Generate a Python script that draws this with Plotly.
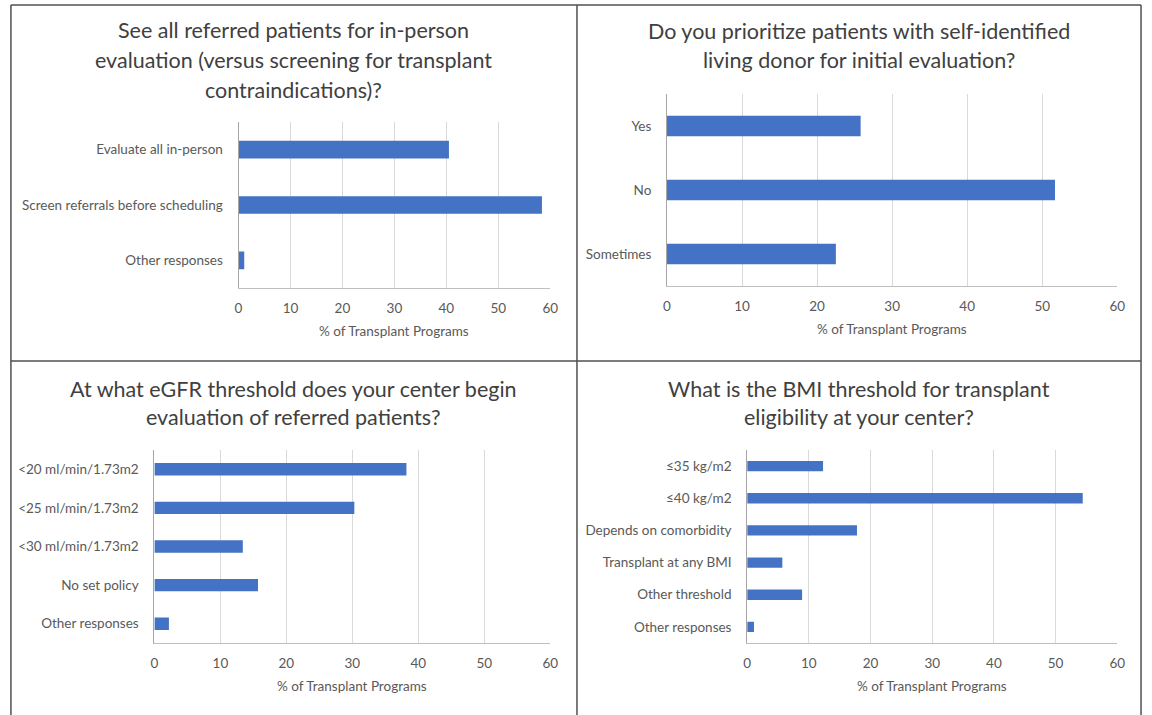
import plotly.graph_objects as go

W, H = 1152, 715

# ---- data ----
p1_title = ["See all referred patients for in-person",
            "evaluation (versus screening for transplant",
            "contraindications)?"]
p1_cats = ["Evaluate all in-person", "Screen referrals before scheduling", "Other responses"]
p1_vals = [40.5, 58.4, 1.1]

p2_title = ["Do you prioritize patients with self-identified",
            "living donor for initial evaluation?"]
p2_cats = ["Yes", "No", "Sometimes"]
p2_vals = [25.8, 51.7, 22.5]

p3_title = ["At what eGFR threshold does your center begin",
            "evaluation of referred patients?"]
p3_cats = ["<20 ml/min/1.73m2", "<25 ml/min/1.73m2", "<30 ml/min/1.73m2",
           "No set policy", "Other responses"]
p3_vals = [38.2, 30.3, 13.4, 15.7, 2.2]

p4_title = ["What is the BMI threshold for transplant",
            "eligibility at your center?"]
p4_cats = ["≤35 kg/m2", "≤40 kg/m2", "Depends on comorbidity",
           "Transplant at any BMI", "Other threshold", "Other responses"]
p4_vals = [12.3, 54.4, 17.8, 5.7, 8.9, 1.1]

x_title = "% of Transplant Programs"
x_ticks = [0, 10, 20, 30, 40, 50, 60]

# ---- layout (pixel boxes) ----
FONT = "Lato"
TXT = "#595959"
BAR = "#4472C4"

panels = [
    dict(cats=p1_cats, vals=p1_vals, title=p1_title, box=(237, 552, 122, 288),
         tcx=293, ty=[30, 60, 90]),
    dict(cats=p2_cats, vals=p2_vals, title=p2_title, box=(670, 1125, 94, 286),
         tcx=864, ty=[31, 60]),
    dict(cats=p3_cats, vals=p3_vals, title=p3_title, box=(152, 552, 450, 643),
         tcx=293, ty=[389, 417]),
    dict(cats=p4_cats, vals=p4_vals, title=p4_title, box=(751, 1125, 450, 643),
         tcx=864, ty=[389, 417]),
]

def px(x):
    return x / W

def py(y):
    return 1 - y / H

fig = go.Figure()
annotations = []
layout_axes = {}
for i, p in enumerate(panels, start=1):
    sfx = "" if i == 1 else str(i)
    x0, x1, y0, y1 = p["box"]
    fig.add_trace(go.Bar(
        y=p["cats"], x=p["vals"], orientation="h",
        marker=dict(color=BAR, line=dict(width=0)),
        width=0.32, xaxis="x" + sfx, yaxis="y" + sfx, showlegend=False,
        hoverinfo="x+y"))
    layout_axes["xaxis" + sfx] = dict(
        domain=[px(x0), px(x1)], anchor="y" + sfx, range=[0, 60],
        tickvals=x_ticks, showgrid=True, gridcolor="#D9D9D9", gridwidth=1,
        showline=True, linecolor="#BFBFBF", linewidth=1, zeroline=False,
        ticks="", ticklabelstandoff=8,
        tickfont=dict(family=FONT, size=13.5, color=TXT), fixedrange=True)
    layout_axes["yaxis" + sfx] = dict(
        domain=[py(y1), py(y0)], anchor="x" + sfx, type="category",
        categoryorder="array", categoryarray=p["cats"], autorange="reversed",
        showline=True, linecolor="#A6A6A6", linewidth=1, showgrid=False,
        ticks="", ticklabelstandoff=12,
        tickfont=dict(family=FONT, size=13.5, color=TXT), fixedrange=True)
    for line, ty in zip(p["title"], p["ty"]):
        annotations.append(dict(
            text=line, x=px(p["tcx"]), y=py(ty), xref="paper", yref="paper",
            xanchor="center", yanchor="middle", showarrow=False,
            font=dict(family=FONT, size=21.5, color="#404040")))
    annotations.append(dict(
        text=x_title, x=px((x0 + x1) / 2), y=py(y1 + 43), xref="paper", yref="paper",
        xanchor="center", yanchor="middle", showarrow=False,
        font=dict(family=FONT, size=13.5, color=TXT)))

BORDER = "#505050"
shapes = [
    dict(type="line", xref="paper", yref="paper", x0=px(7), x1=px(7), y0=py(5), y1=0,
         line=dict(color=BORDER, width=1.5)),
    dict(type="line", xref="paper", yref="paper", x0=px(1149), x1=px(1149), y0=py(5), y1=0,
         line=dict(color=BORDER, width=1.5)),
    dict(type="line", xref="paper", yref="paper", x0=px(7), x1=px(1149), y0=py(5), y1=py(5),
         line=dict(color=BORDER, width=1.5)),
    dict(type="line", xref="paper", yref="paper", x0=px(579), x1=px(579), y0=py(5), y1=0,
         line=dict(color=BORDER, width=1.5)),
    dict(type="line", xref="paper", yref="paper", x0=px(7), x1=px(1149), y0=py(361), y1=py(361),
         line=dict(color=BORDER, width=1.5)),
]

fig.update_layout(
    width=W, height=H, margin=dict(l=0, r=0, t=0, b=0),
    paper_bgcolor="white", plot_bgcolor="white",
    annotations=annotations, shapes=shapes, bargap=0.68,
    font=dict(family=FONT, color=TXT), **layout_axes)

fig.write_html("out.html", config={"displayModeBar": False})
